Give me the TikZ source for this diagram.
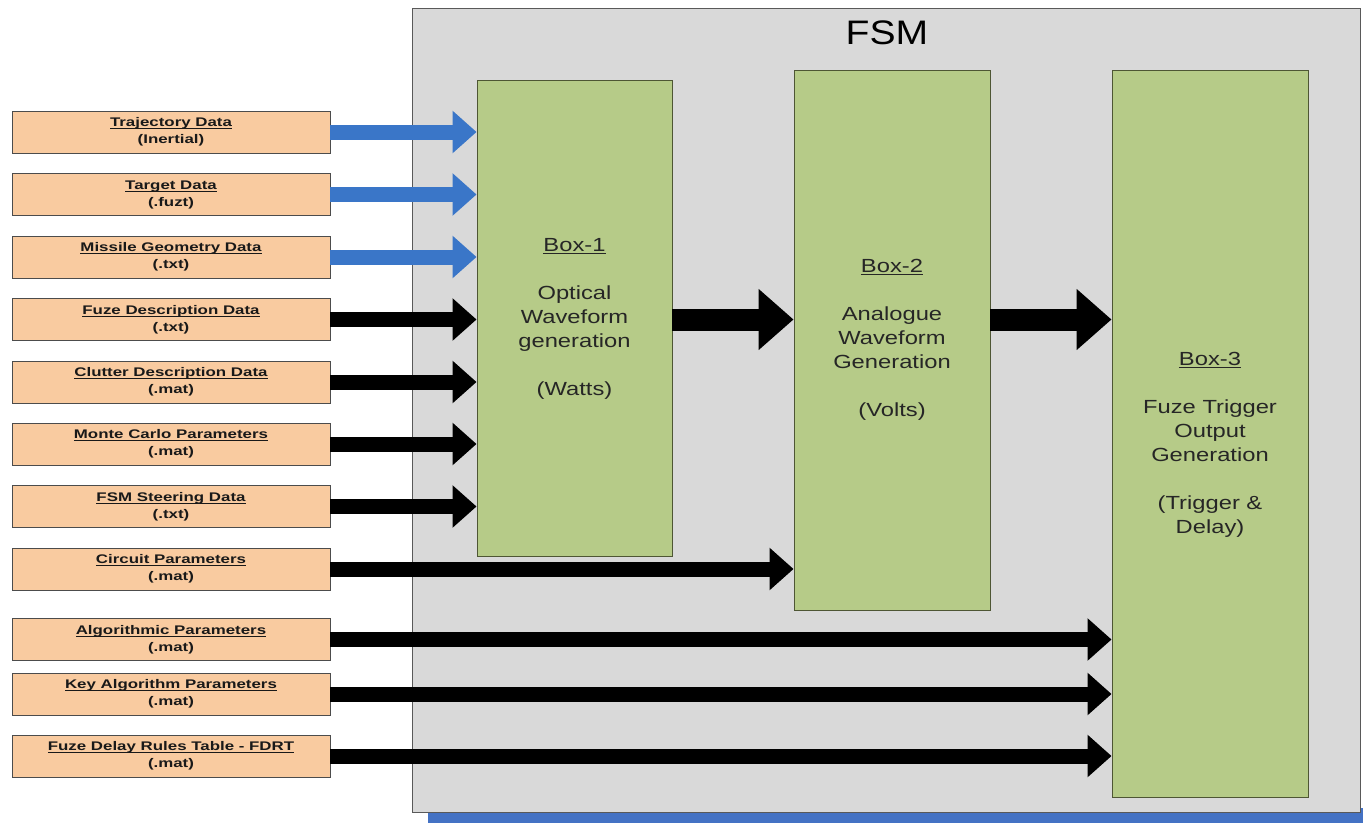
\documentclass[tikz,border=0pt]{standalone}
\usepackage{fontspec}
\usetikzlibrary{arrows.meta,calc}
\setmainfont{Liberation Sans}
\newfontfamily\inputfont[FakeStretch=1.35]{Liberation Sans}
\newfontfamily\stagefont[FakeStretch=1.25]{Liberation Sans}
\newfontfamily\fsmfont[FakeStretch=1.15]{Liberation Sans}
% underline drawn a fixed distance below the baseline, through descenders
\newcommand{\uln}[1]{\leavevmode\setbox0\hbox{#1}\rlap{\rule[-2.4pt]{\wd0}{0.9pt}}\box0}
\definecolor{fsmgray}{HTML}{D9D9D9}
\definecolor{shadowblue}{HTML}{4472C4}
\definecolor{peach}{HTML}{F9CBA0}
\definecolor{stagegreen}{HTML}{B6CB88}
\definecolor{stageedge}{HTML}{4E5634}
\definecolor{arrowblue}{HTML}{3A76C8}

\begin{document}
\begin{tikzpicture}[x=1pt,y=-1pt,
  fsmframe/.style={draw=black!65, fill=fsmgray, line width=0.9pt, inner sep=0pt},
  inbox/.style={draw=black!70, fill=peach, line width=0.9pt, minimum width=318pt,
    minimum height=42pt, inner sep=0pt, align=center,
    font=\inputfont\bfseries\fontsize{12.5}{17}\selectfont, text=black!90},
  stage/.style={draw=stageedge, fill=stagegreen, line width=0.9pt, inner sep=0pt},
  stagetext/.style={align=center, font=\stagefont\fontsize{19}{24}\selectfont, text=black!85},
  thinarrow/.style={line width=15pt, -{Triangle[length=24pt,width=41pt]}},
  bluearrow/.style={thinarrow, draw=arrowblue},
  blackarrow/.style={thinarrow, draw=black},
  bigarrow/.style={line width=22pt, -{Triangle[length=35pt,width=59pt]}, draw=black}]
\useasboundingbox (0,0) rectangle (1363,823);

% FSM frame with its blue bottom edge
\fill[shadowblue] (428,808) rectangle (1363,823);
\node[fsmframe, minimum width=948pt, minimum height=804pt] (fsm) at (886,410) {};
\node[anchor=base, font=\fsmfont\fontsize{34}{40}\selectfont] (fsmtitle) at (887,44) {FSM};

% processing stages
\node[stage, minimum width=195pt, minimum height=476pt] (box1) at (574.5,318) {};
\node[stage, minimum width=196pt, minimum height=540pt] (box2) at (892,340) {};
\node[stage, minimum width=196pt, minimum height=727pt] (box3) at (1210,433.5) {};

\node[stagetext] (t1) at (574.5,318.5)
  {\uln{Box-1}\\[24pt]Optical\\Waveform\\generation\\[24pt](Watts)};
\node[stagetext] (t2) at (892,340)
  {\uln{Box-2}\\[24pt]Analogue\\Waveform\\Generation\\[24pt](Volts)};
\node[stagetext] (t3) at (1210,445)
  {\uln{Box-3}\\[24pt]Fuze Trigger\\Output\\Generation\\[24pt](Trigger \&\\Delay)};

% input data files
\node[inbox] (in1)  at (171,132)   {\uln{Trajectory Data}\\(Inertial)};
\node[inbox] (in2)  at (171,194.5) {\uln{Target Data}\\(.fuzt)};
\node[inbox] (in3)  at (171,257)   {\uln{Missile Geometry Data}\\(.txt)};
\node[inbox] (in4)  at (171,319.5) {\uln{Fuze Description Data}\\(.txt)};
\node[inbox] (in5)  at (171,382)   {\uln{Clutter Description Data}\\(.mat)};
\node[inbox] (in6)  at (171,444)   {\uln{Monte Carlo Parameters}\\(.mat)};
\node[inbox] (in7)  at (171,506.5) {\uln{FSM Steering Data}\\(.txt)};
\node[inbox] (in8)  at (171,569)   {\uln{Circuit Parameters}\\(.mat)};
\node[inbox] (in9)  at (171,639.5) {\uln{Algorithmic Parameters}\\(.mat)};
\node[inbox] (in10) at (171,694)   {\uln{Key Algorithm Parameters}\\(.mat)};
\node[inbox] (in11) at (171,756)   {\uln{Fuze Delay Rules Table - FDRT}\\(.mat)};

% data flows
\foreach \i in {1,2,3}
  \draw[bluearrow] (in\i.east) -- (box1.west |- in\i.east);
\foreach \i in {4,5,6,7}
  \draw[blackarrow] (in\i.east) -- (box1.west |- in\i.east);
\draw[blackarrow] (in8.east) -- (box2.west |- in8.east);
\foreach \i in {9,10,11}
  \draw[blackarrow] (in\i.east) -- (box3.west |- in\i.east);
\draw[bigarrow] (box1.east |- in4.east) -- (box2.west |- in4.east);
\draw[bigarrow] (box2.east |- in4.east) -- (box3.west |- in4.east);
\end{tikzpicture}
\end{document}
